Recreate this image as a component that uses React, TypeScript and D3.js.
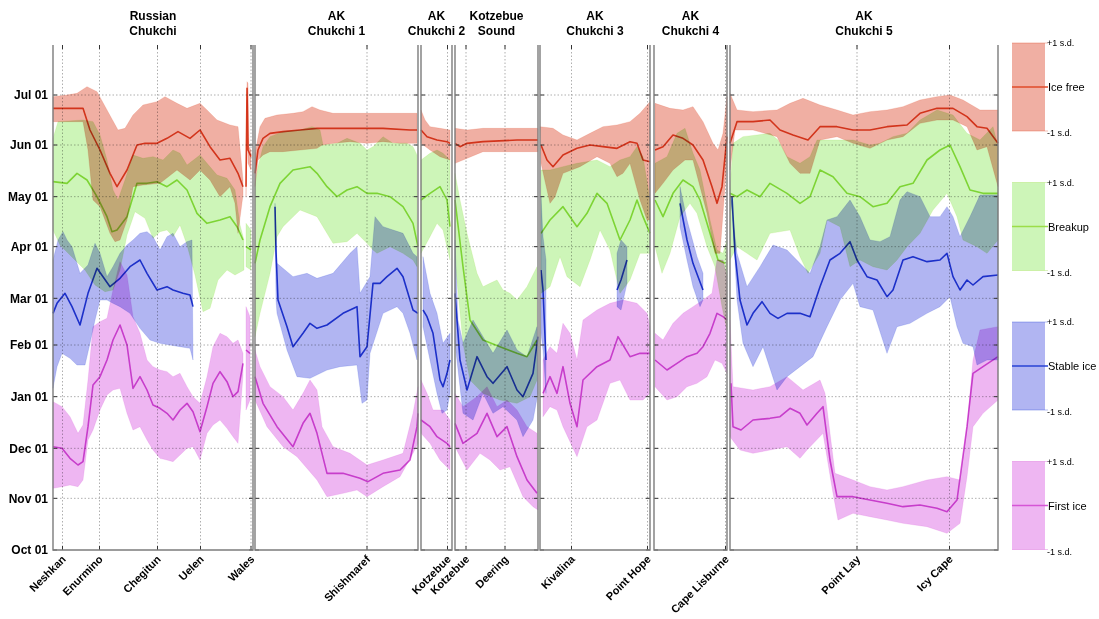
import React from 'react';
import * as d3 from 'd3';

type Pt = [number, number]; // [km along the coast, days after Oct 01]
type Band = { hi: Pt[]; mid: Pt[]; lo: Pt[] };

const monthTicks = [
  { label: 'Oct 01', day: 0 },
  { label: 'Nov 01', day: 31 },
  { label: 'Dec 01', day: 61 },
  { label: 'Jan 01', day: 92 },
  { label: 'Feb 01', day: 123 },
  { label: 'Mar 01', day: 151 },
  { label: 'Apr 01', day: 182 },
  { label: 'May 01', day: 212 },
  { label: 'Jun 01', day: 243 },
  { label: 'Jul 01', day: 273 },
];

const regions = [
  { name: ['Russian', 'Chukchi'], from: 0, to: 200 },
  { name: ['AK', 'Chukchi 1'], from: 202, to: 365 },
  { name: ['AK', 'Chukchi 2'], from: 368, to: 399 },
  { name: ['Kotzebue', 'Sound'], from: 402, to: 485 },
  { name: ['AK', 'Chukchi 3'], from: 487, to: 597 },
  { name: ['AK', 'Chukchi 4'], from: 601, to: 674 },
  { name: ['AK', 'Chukchi 5'], from: 677, to: 945 },
];

const sites = [
  { name: 'Neshkan', km: 9.5 },
  { name: 'Enurmino', km: 46.5 },
  { name: 'Chegitun', km: 104.5 },
  { name: 'Uelen', km: 147.5 },
  { name: 'Wales', km: 198 },
  { name: 'Shishmaref', km: 314 },
  { name: 'Kotzebue', km: 394.5 },
  { name: 'Kotzebue', km: 413 },
  { name: 'Deering', km: 452 },
  { name: 'Kivalina', km: 518.5 },
  { name: 'Point Hope', km: 594.5 },
  { name: 'Cape Lisburne', km: 672.5 },
  { name: 'Point Lay', km: 804 },
  { name: 'Icy Cape', km: 896.5 },
];

// mean date and +/- 1 s.d., per coastal section
const iceFree: Band[] = [
  {
    hi: [[0,272],[14,273],[24,274],[34,278],[44,275],[54,264],[65,252],[72,253],[80,261],[90,267],[104,269],[112,272],[124,268],[134,265],[147,268],[154,264],[164,258],[177,255],[185,254],[190,222]],
    mid: [[0,265],[30,265],[37,252],[47,240],[57,226],[64,218],[74,228],[84,243],[92,244],[104,244],[114,247],[125,251],[137,247],[147,252],[157,242],[167,234],[177,235],[185,226],[190,218]],
    lo: [[0,257],[30,257],[35,240],[40,210],[47,206],[57,190],[62,185],[67,186],[74,198],[80,218],[90,219],[107,220],[124,228],[137,222],[147,228],[157,222],[167,212],[177,218],[182,208],[185,190],[190,213]],
  },
  {
    hi: [[193,224],[194,281],[195,280],[196,242],[198,240]],
    mid: [[193,218],[194,277],[195,240],[198,236]],
    lo: [[193,212],[194,270],[195,232],[198,228]],
  },
  {
    hi: [[202,238],[207,254],[212,259],[224,261],[240,262],[250,263],[259,266],[267,264],[280,262],[364,262]],
    mid: [[202,226],[205,240],[210,247],[217,250],[230,251],[247,252],[264,253],[330,253],[357,252],[364,252]],
    lo: [[202,218],[205,234],[210,237],[217,239],[230,239],[247,240],[264,241],[269,243],[280,244],[297,245],[314,244],[330,245],[347,244],[364,244]],
  },
  {
    hi: [[368,264],[372,258],[377,254],[387,253],[397,252]],
    mid: [[368,252],[374,248],[384,246],[394,245],[397,244]],
    lo: [[368,244],[377,240],[387,236],[397,234]],
  },
  {
    hi: [[402,253],[414,252],[430,253],[464,253],[485,253]],
    mid: [[402,244],[407,242],[414,244],[430,245],[464,246],[485,246]],
    lo: [[402,232],[410,234],[430,239],[464,239],[485,239]],
  },
  {
    hi: [[487,254],[500,253],[510,249],[524,246],[537,250],[550,254],[564,255],[577,257],[587,262],[597,269]],
    mid: [[488,243],[494,234],[500,230],[510,237],[524,241],[537,243],[550,242],[564,241],[577,245],[584,244],[590,234],[597,233]],
    lo: [[488,232],[497,208],[502,212],[510,226],[527,230],[544,236],[557,232],[564,224],[570,226],[577,232],[587,210],[594,198],[597,198]],
  },
  {
    hi: [[602,268],[617,265],[630,264],[640,266],[650,257],[660,244],[665,240],[670,250],[674,272]],
    mid: [[602,240],[610,242],[620,249],[630,247],[640,243],[650,234],[659,218],[664,208],[669,218],[674,248]],
    lo: [[602,214],[610,220],[620,228],[632,234],[640,234],[647,218],[654,202],[662,178],[667,178],[674,234]],
  },
  {
    hi: [[677,274],[684,264],[700,263],[724,264],[737,268],[750,271],[767,267],[784,264],[800,261],[817,263],[834,264],[850,266],[867,270],[884,272],[897,273],[910,270],[927,264],[945,264]],
    mid: [[677,244],[684,257],[700,257],[717,258],[727,252],[740,249],[755,246],[767,254],[784,254],[800,252],[817,252],[834,254],[854,255],[867,262],[884,265],[900,265],[914,260],[924,254],[934,253],[945,244]],
    lo: [[677,228],[682,252],[700,252],[724,248],[737,232],[747,226],[757,226],[767,246],[784,248],[800,244],[817,241],[834,246],[850,248],[867,256],[884,258],[900,258],[914,254],[924,240],[934,242],[945,218]],
  },
];

const breakup: Band[] = [
  {
    hi: [[0,247],[5,257],[30,258],[40,257],[47,249],[54,234],[60,216],[65,210],[72,222],[80,237],[90,235],[100,236],[110,234],[120,240],[127,238],[134,231],[147,237],[154,232],[164,225],[174,223],[182,216],[187,195],[191,186]],
    mid: [[0,221],[14,220],[24,226],[34,222],[44,212],[54,200],[59,191],[64,192],[74,200],[84,220],[94,220],[104,221],[114,218],[124,222],[134,216],[144,202],[154,196],[167,198],[177,200],[184,194],[190,186]],
    lo: [[0,192],[7,183],[12,180],[22,174],[32,168],[42,159],[52,155],[60,156],[67,168],[74,189],[82,203],[92,199],[100,187],[107,191],[114,192],[120,188],[127,195],[134,183],[142,165],[150,143],[157,145],[165,162],[174,168],[182,165],[191,168]],
  },
  {
    hi: [[193,196],[198,192]],
    mid: [[193,182],[198,180]],
    lo: [[193,170],[198,168]],
  },
  {
    hi: [[202,220],[205,230],[210,242],[217,248],[230,251],[247,252],[259,254],[267,252],[270,243],[284,244],[294,247],[307,244],[314,240],[320,242],[330,248],[340,244],[354,244],[360,242],[364,237]],
    mid: [[202,172],[207,186],[217,206],[227,220],[240,228],[257,230],[264,226],[274,218],[284,212],[294,216],[304,218],[314,214],[324,214],[337,212],[350,206],[360,196],[365,182]],
    lo: [[202,128],[207,142],[217,166],[224,188],[230,194],[247,204],[264,200],[280,184],[294,185],[304,190],[314,184],[320,180],[324,178],[337,182],[350,178],[360,174],[364,170]],
  },
  {
    hi: [[368,234],[377,238],[384,240],[390,238],[397,234]],
    mid: [[368,210],[377,214],[387,218],[394,210],[397,194]],
    lo: [[368,178],[377,188],[384,196],[390,192],[397,174]],
  },
  {
    hi: [[402,226],[407,210],[414,190],[424,166],[430,158],[437,160],[444,162],[450,156],[457,154],[464,150],[474,158],[484,170]],
    mid: [[402,210],[410,170],[417,138],[430,126],[447,122],[464,118],[474,116],[484,126]],
    lo: [[402,174],[410,124],[417,102],[430,94],[447,90],[464,88],[477,92],[484,102]],
  },
  {
    hi: [[488,228],[497,228],[510,230],[524,232],[544,234],[557,230],[567,234],[577,236],[584,242],[590,236],[597,210]],
    mid: [[488,190],[497,198],[510,206],[524,194],[534,202],[544,214],[554,208],[567,186],[577,198],[584,210],[590,200],[597,190]],
    lo: [[488,154],[497,158],[507,176],[514,164],[527,158],[537,174],[547,192],[557,180],[567,154],[577,162],[587,178],[597,178]],
  },
  {
    hi: [[602,232],[614,236],[624,250],[632,253],[640,238],[647,228],[657,198],[664,180],[670,178],[674,186]],
    mid: [[602,210],[610,200],[620,214],[630,222],[640,218],[647,210],[657,190],[665,174],[672,172]],
    lo: [[602,182],[609,166],[617,178],[627,200],[637,208],[644,202],[654,182],[662,170],[669,146],[674,132]],
  },
  {
    hi: [[677,216],[680,244],[690,248],[704,249],[717,250],[725,246],[734,236],[747,232],[757,236],[764,246],[777,246],[800,246],[817,243],[827,244],[840,248],[854,250],[867,258],[884,264],[900,261],[914,250],[927,246],[940,254],[945,242]],
    mid: [[677,214],[684,212],[694,216],[707,212],[717,220],[734,214],[747,208],[757,212],[767,228],[780,224],[794,214],[807,212],[820,206],[834,208],[847,218],[860,220],[874,234],[887,240],[897,243],[907,230],[917,216],[930,214],[945,214]],
    lo: [[677,174],[684,182],[694,178],[704,174],[717,190],[737,192],[747,176],[755,166],[767,178],[774,198],[787,194],[797,170],[807,174],[820,170],[834,168],[844,174],[854,182],[867,190],[880,204],[894,214],[904,200],[910,186],[924,182],[934,178],[945,186]],
  },
];

const stableIce: Band[] = [
  {
    hi: [[0,174],[5,186],[10,191],[14,186],[19,182],[27,166],[35,171],[42,184],[47,178],[54,164],[60,170],[67,178],[74,183],[80,186],[87,190],[94,191],[100,188],[107,180],[114,188],[120,190],[127,182],[134,185],[139,186]],
    mid: [[0,142],[4,148],[12,154],[19,146],[27,135],[35,154],[44,169],[50,164],[57,158],[67,163],[77,170],[87,174],[94,166],[104,156],[114,158],[120,156],[130,154],[137,153],[140,146]],
    lo: [[0,97],[4,110],[9,118],[17,115],[24,111],[32,111],[37,124],[42,138],[47,150],[54,150],[60,148],[67,146],[77,142],[87,133],[97,126],[107,124],[117,123],[127,122],[137,121],[140,114]],
  },
  {
    hi: [[222,208],[224,172],[240,164],[254,166],[264,163],[280,166],[297,178],[304,182],[307,154],[317,164],[322,200],[330,194],[340,192],[350,190],[360,178],[364,176]],
    mid: [[222,206],[223,179],[225,150],[234,134],[240,122],[250,130],[257,136],[264,133],[274,135],[290,142],[304,146],[307,116],[314,122],[320,160],[327,160],[334,164],[344,169],[350,164],[360,144],[365,142]],
    lo: [[222,204],[223,150],[224,142],[234,120],[244,104],[257,103],[274,108],[287,110],[304,111],[309,88],[314,90],[317,118],[330,142],[344,146],[350,142],[357,130],[364,114]],
  },
  {
    hi: [[370,176],[377,154],[384,142],[390,124],[397,130]],
    mid: [[370,144],[374,140],[380,130],[387,102],[390,98],[394,106],[397,114]],
    lo: [[370,134],[377,114],[384,94],[389,82],[394,84],[397,94]],
  },
  {
    hi: [[402,186],[405,138],[410,124],[420,138],[430,128],[440,118],[454,132],[464,120],[474,116],[484,134]],
    mid: [[402,154],[407,114],[414,96],[424,116],[434,104],[440,100],[454,110],[464,96],[470,92],[480,106],[485,128]],
    lo: [[402,124],[410,82],[420,78],[430,94],[440,82],[450,86],[464,78],[470,68],[480,78],[485,94]],
  },
  {
    hi: [[488,212],[490,188],[493,174]],
    mid: [[488,168],[490,156],[493,114]],
    lo: [[488,130],[490,120],[493,94]],
  },
  {
    hi: [[564,178],[568,186],[574,182]],
    mid: [[564,156],[568,162],[574,174]],
    lo: [[564,146],[568,144],[574,160]],
  },
  {
    hi: [[627,218],[634,198],[644,176],[650,166]],
    mid: [[627,208],[634,186],[640,172],[650,156]],
    lo: [[627,194],[634,174],[640,158],[647,146],[650,150]],
  },
  {
    hi: [[677,214],[684,178],[694,158],[707,170],[720,183],[734,180],[747,172],[757,166],[767,182],[774,198],[784,200],[797,210],[807,200],[817,186],[827,185],[837,188],[847,210],[854,215],[867,212],[877,200],[887,200],[894,206],[900,200],[907,188],[917,200],[927,213],[945,213]],
    mid: [[679,212],[682,178],[687,150],[694,135],[700,142],[709,149],[717,142],[725,139],[734,142],[747,142],[757,140],[767,158],[777,174],[787,178],[797,185],[804,174],[814,164],[824,162],[834,152],[840,156],[850,174],[860,176],[874,173],[887,174],[894,178],[900,164],[907,156],[914,162],[920,159],[930,164],[945,165]],
    lo: [[679,208],[684,150],[690,124],[700,110],[710,122],[724,96],[734,104],[747,110],[760,116],[774,134],[787,150],[800,160],[807,146],[820,144],[834,118],[844,134],[857,136],[874,142],[887,146],[897,152],[904,134],[910,124],[920,122],[924,111],[934,114],[945,114]],
  },
];

const firstIce: Band[] = [
  {
    hi: [[0,89],[9,86],[17,80],[25,70],[30,75],[35,102],[40,134],[47,137],[54,139],[60,156],[67,173],[74,165],[80,140],[87,130],[94,114],[100,110],[107,108],[114,107],[120,104],[127,106],[134,98],[140,92],[147,88],[154,104],[160,122],[167,130],[174,128],[180,124],[185,126],[190,118]],
    mid: [[0,62],[9,61],[17,55],[25,51],[30,53],[35,74],[40,99],[47,104],[54,114],[60,126],[67,135],[74,123],[80,97],[87,104],[94,96],[100,87],[107,85],[114,82],[120,78],[127,84],[134,88],[140,83],[147,71],[154,86],[160,100],[167,107],[174,101],[180,92],[185,95],[190,112]],
    lo: [[0,37],[9,38],[17,39],[25,38],[30,42],[35,66],[40,72],[47,84],[54,93],[60,96],[67,97],[74,82],[80,72],[87,74],[94,66],[100,60],[107,55],[114,54],[120,53],[127,57],[134,61],[140,62],[147,54],[154,70],[160,75],[167,78],[174,73],[180,68],[185,64],[190,105]],
  },
  {
    hi: [[193,146],[197,140]],
    mid: [[193,120],[197,118]],
    lo: [[193,84],[197,90]],
  },
  {
    hi: [[202,120],[207,110],[217,98],[230,92],[240,84],[250,94],[257,102],[264,96],[269,74],[280,62],[297,58],[314,51],[330,54],[350,58],[360,82],[365,98]],
    mid: [[202,104],[210,88],[224,74],[240,62],[250,76],[257,82],[264,70],[274,46],[290,46],[307,43],[315,41],[330,46],[347,48],[357,54],[364,74],[365,82]],
    lo: [[202,90],[214,74],[230,62],[244,56],[264,42],[274,32],[290,34],[304,36],[314,32],[330,38],[347,44],[360,58],[365,64]],
  },
  {
    hi: [[368,102],[374,94],[380,84],[390,84],[397,78]],
    mid: [[368,78],[377,74],[384,68],[394,64],[397,62]],
    lo: [[368,70],[377,64],[387,54],[397,48]],
  },
  {
    hi: [[402,94],[410,86],[424,92],[434,98],[444,86],[454,90],[464,84],[474,74],[484,70]],
    mid: [[402,76],[410,64],[424,70],[434,82],[444,68],[454,74],[464,56],[474,42],[484,34]],
    lo: [[402,62],[414,48],[427,58],[437,54],[447,48],[457,50],[470,32],[480,26],[485,24]],
  },
  {
    hi: [[490,114],[497,122],[504,118],[510,136],[517,130],[524,114],[530,138],[544,144],[557,148],[570,150],[584,148],[594,142],[597,134]],
    mid: [[490,94],[497,104],[504,94],[510,110],[517,88],[524,74],[530,102],[544,110],[557,114],[565,128],[577,116],[587,118],[597,118]],
    lo: [[490,80],[497,86],[504,84],[510,74],[524,56],[534,74],[544,78],[557,100],[567,102],[577,90],[590,90],[597,94]],
  },
  {
    hi: [[602,130],[610,126],[620,136],[630,142],[640,146],[650,150],[659,154],[664,174],[670,174],[674,164]],
    mid: [[602,114],[614,108],[624,112],[634,116],[644,118],[650,122],[657,130],[664,142],[670,140],[674,138]],
    lo: [[602,98],[614,90],[624,92],[634,98],[644,100],[654,104],[662,114],[669,112],[674,106]],
  },
  {
    hi: [[677,138],[680,98],[700,96],[717,98],[734,104],[750,96],[767,102],[772,94],[782,46],[800,42],[817,38],[834,36],[850,38],[874,42],[894,44],[907,42],[914,74],[920,114],[927,132],[945,134]],
    mid: [[678,100],[680,74],[688,72],[700,78],[717,79],[727,80],[737,85],[747,82],[754,75],[764,82],[770,86],[777,54],[784,32],[800,32],[817,30],[834,28],[850,26],[867,27],[884,25],[894,23],[904,30],[914,74],[920,106],[930,110],[945,116]],
    lo: [[677,68],[687,60],[700,58],[717,60],[734,62],[747,55],[754,60],[770,70],[780,34],[785,18],[800,22],[817,20],[834,18],[850,16],[874,14],[894,10],[907,16],[914,44],[920,74],[930,82],[945,90]],
  },
];

const layers = [
  { label: 'Ice free', data: iceFree, fill: '#f0afa3', stroke: '#e04b2a' },
  { label: 'Breakup', data: breakup, fill: '#cdf5b8', stroke: '#9cdd48' },
  { label: 'Stable ice', data: stableIce, fill: '#b1b5f2', stroke: '#2843d4' },
  { label: 'First ice', data: firstIce, fill: '#eeb6f2', stroke: '#d655d6' },
];

const FONT = '"Liberation Sans", Arial, Helvetica, sans-serif';
const W = 1099;
const H = 619;

const x = d3.scaleLinear().domain([0, 945]).range([53, 998]);
const y = d3.scaleLinear().domain([0, 303]).range([550, 45]);

const line = d3.line<Pt>().x(d => x(d[0])).y(d => y(d[1]));
const bandPath = (b: Band) => line([...b.hi, ...b.lo.slice().reverse()]) + 'Z';

const multiply: React.CSSProperties = { mixBlendMode: 'multiply' };

export default function App() {
  const y0 = y(0);
  const yTop = y.range()[1];
  return (
    <svg width={W} height={H} style={{ position: 'absolute', left: 0, top: 0, background: '#fff' }} fontFamily={FONT}>
      <rect width={W} height={H} fill="#fff" />

      {/* grid */}
      {regions.map((r, i) => (
        <g key={'grid' + i}>
          {monthTicks.slice(1).map(t => (
            <line key={t.label} x1={x(r.from)} x2={x(r.to)} y1={y(t.day)} y2={y(t.day)}
              stroke="#9a9a9a" strokeWidth={0.8} strokeDasharray="1.5,2" />
          ))}
        </g>
      ))}
      {sites.map((s, i) => (
        <line key={'vg' + i} x1={x(s.km)} x2={x(s.km)} y1={yTop} y2={y0}
          stroke="#9a9a9a" strokeWidth={0.8} strokeDasharray="1.5,2" />
      ))}

      {/* bands */}
      {layers.slice().reverse().map(l => (
        <g key={'band' + l.label}>
          {l.data.map((b, i) => (
            <path key={i} d={bandPath(b)} fill={l.fill} stroke={l.stroke} strokeOpacity={0.25}
              strokeWidth={0.7} style={multiply} />
          ))}
        </g>
      ))}
      {layers.slice().reverse().map(l => (
        <g key={'mid' + l.label}>
          {l.data.map((b, i) => (
            <path key={i} d={line(b.mid) || ''} fill="none" stroke={l.stroke} strokeWidth={1.6}
              strokeLinejoin="round" style={multiply} />
          ))}
        </g>
      ))}

      {/* axes boxes and ticks */}
      {regions.map((r, i) => {
        const xa = x(r.from);
        const xb = x(r.to);
        return (
          <g key={'box' + i}>
            {monthTicks.map(t => (
              <g key={t.label}>
                <line x1={xa} x2={xa + 4} y1={y(t.day)} y2={y(t.day)} stroke="#333" strokeWidth={1} />
                <line x1={xb - 4} x2={xb} y1={y(t.day)} y2={y(t.day)} stroke="#333" strokeWidth={1} />
              </g>
            ))}
            {sites.filter(s => s.km >= r.from && s.km <= r.to).map((s, j) => (
              <g key={j}>
                <line x1={x(s.km)} x2={x(s.km)} y1={y0} y2={y0 - 4} stroke="#333" strokeWidth={1} />
                <line x1={x(s.km)} x2={x(s.km)} y1={yTop} y2={yTop + 4} stroke="#333" strokeWidth={1} />
              </g>
            ))}
            <path d={`M${xa},${yTop}V${y0}H${xb}V${yTop}`} fill="none" stroke="#7c7c7c" strokeWidth={1.4} />
            <text x={(xa + xb) / 2} y={19.5} textAnchor="middle" fontSize={12} fontWeight="bold">{r.name[0]}</text>
            <text x={(xa + xb) / 2} y={34.5} textAnchor="middle" fontSize={12} fontWeight="bold">{r.name[1]}</text>
          </g>
        );
      })}

      {/* y tick labels */}
      {monthTicks.map(t => (
        <text key={t.label} x={48} y={y(t.day) + 4.3} textAnchor="end" fontSize={12} fontWeight="bold">{t.label}</text>
      ))}

      {/* site labels */}
      {sites.map((s, i) => (
        <text key={'sl' + i} transform={`translate(${x(s.km) + 4},${y0 + 10}) rotate(-45)`} textAnchor="end"
          fontSize={11} fontWeight="bold">{s.name}</text>
      ))}

      {/* legend */}
      {layers.map((l, i) => {
        const top = 43 + i * 139.5;
        const h = 88;
        const bx = 1012;
        const bw = 33;
        return (
          <g key={'leg' + i}>
            <rect x={bx} y={top} width={bw} height={h} fill={l.fill} />
            <line x1={bx} x2={bx + bw + 3} y1={top} y2={top} stroke={l.stroke} strokeOpacity={0.45} strokeWidth={0.8} />
            <line x1={bx} x2={bx + bw + 3} y1={top + h} y2={top + h} stroke={l.stroke} strokeOpacity={0.45} strokeWidth={0.8} />
            <line x1={bx} x2={bx + bw + 3} y1={top + h / 2} y2={top + h / 2} stroke={l.stroke} strokeWidth={1.6} />
            <text x={bx + bw + 2} y={top + 3} fontSize={9}>+1 s.d.</text>
            <text x={bx + bw + 3} y={top + h / 2 + 4} fontSize={11}>{l.label}</text>
            <text x={bx + bw + 2} y={top + h + 5} fontSize={9}>-1 s.d.</text>
          </g>
        );
      })}
    </svg>
  );
}
